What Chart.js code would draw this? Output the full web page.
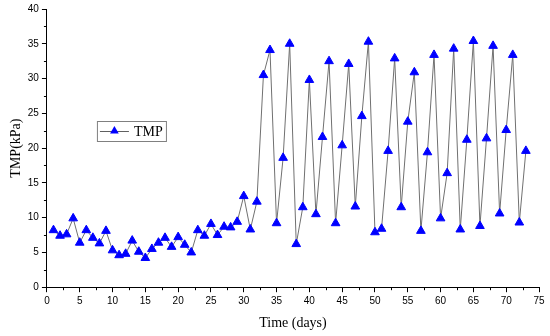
<!DOCTYPE html>
<html>
<head>
<meta charset="utf-8">
<script src="https://cdn.jsdelivr.net/npm/chart.js@4.4.0/dist/chart.umd.min.js"></script>
<style>
html, body { margin: 0; padding: 0; background: #fff; }
</style>
</head>
<body>
<canvas id="tmpChart" width="550" height="336"></canvas>
<script>
// data
var days = [1, 2, 3, 4, 5, 6, 7, 8, 9, 10, 11, 12, 13, 14, 15, 16, 17, 18, 19, 20,
	21, 22, 23, 24, 25, 26, 27, 28, 29, 30, 31, 32, 33, 34, 35, 36, 37, 38, 39, 40,
	41, 42, 43, 44, 45, 46, 47, 48, 49, 50, 51, 52, 53, 54, 55, 56, 57, 58, 59, 60,
	61, 62, 63, 64, 65, 66, 67, 68, 69, 70, 71, 72, 73];
var tmp = [8.2, 7.4, 7.6, 9.9, 6.4, 8.2, 7.1, 6.3, 8.1, 5.3, 4.6, 4.8, 6.7, 5.1, 4.2, 5.5, 6.4, 7.1, 5.8, 7.2,
	6.1, 5.0, 8.2, 7.4, 9.1, 7.5, 8.7, 8.6, 9.4, 13.1, 8.3, 12.3, 30.5, 34.1, 9.2, 18.6, 35.0, 6.2, 11.5, 29.8,
	10.5, 21.6, 32.5, 9.2, 20.4, 32.1, 11.6, 24.6, 35.3, 7.9, 8.4, 19.6, 32.9, 11.5, 23.8, 30.9, 8.1, 19.4, 33.4, 9.9,
	16.4, 34.3, 8.3, 21.2, 35.4, 8.8, 21.4, 34.7, 10.6, 22.6, 33.4, 9.3, 19.6];
var xTicks = [0, 5, 10, 15, 20, 25, 30, 35, 40, 45, 50, 55, 60, 65, 70, 75];
var yTicks = [0, 5, 10, 15, 20, 25, 30, 35, 40];
var seriesName = "TMP";
var xTitle = "Time (days)";
var yTitle = "TMP(kPa)";

var points = [];
for (var i = 0; i < days.length; i++) {
	points.push({ x: days[i], y: tmp[i] });
}

function triangle(ctx, x, y, r) {
	ctx.beginPath();
	ctx.moveTo(x, y - r);
	ctx.lineTo(x + r * 0.866, y + r * 0.5);
	ctx.lineTo(x - r * 0.866, y + r * 0.5);
	ctx.closePath();
	ctx.fill();
}

// half-step ticks, shorter than the labelled ones
var minorTicks = {
	id: "minorTicks",
	afterDraw: function (chart) {
		var ctx = chart.ctx;
		var xs = chart.scales.x, ys = chart.scales.y;
		ctx.save();
		ctx.strokeStyle = "#000";
		ctx.lineWidth = 1;
		ctx.beginPath();
		for (var i = 0; i < xTicks.length - 1; i++) {
			var px = Math.round(xs.getPixelForValue((xTicks[i] + xTicks[i + 1]) / 2)) + 0.5;
			ctx.moveTo(px, xs.top);
			ctx.lineTo(px, xs.top + 3);
		}
		for (var j = 0; j < yTicks.length - 1; j++) {
			var py = Math.round(ys.getPixelForValue((yTicks[j] + yTicks[j + 1]) / 2)) + 0.5;
			ctx.moveTo(ys.right, py);
			ctx.lineTo(ys.right - 3, py);
		}
		ctx.stroke();
		ctx.restore();
	}
};

// boxed legend sitting inside the plot, like the original
var boxLegend = {
	id: "boxLegend",
	afterDraw: function (chart) {
		var ctx = chart.ctx;
		var area = chart.chartArea;
		var bx = area.left + 50, by = area.top + 112;
		var bw = 69, bh = 20;
		ctx.save();
		ctx.strokeStyle = "#808080";
		ctx.lineWidth = 1;
		ctx.strokeRect(bx + 0.5, by + 0.5, bw, bh);
		ctx.strokeStyle = "#606060";
		ctx.beginPath();
		ctx.moveTo(bx + 3, by + 10.5);
		ctx.lineTo(bx + 32, by + 10.5);
		ctx.stroke();
		ctx.fillStyle = "#0000ff";
		triangle(ctx, bx + 17.5, by + 10, 5);
		ctx.fillStyle = "#000";
		ctx.font = "14px 'Liberation Serif'";
		ctx.textBaseline = "middle";
		ctx.fillText(seriesName, bx + 37, by + 11);
		ctx.restore();
	}
};

var ctx1 = document.getElementById("tmpChart");

var chart1 = new Chart(ctx1, {
	type: "line",
	data: {
		datasets: [
			{
				label: seriesName,
				data: points,
				borderColor: "#707070",
				borderWidth: 1,
				pointStyle: "triangle",
				pointRadius: 5,
				pointBackgroundColor: "#0000ff",
				pointBorderColor: "#0000ff",
				pointBorderWidth: 1,
				tension: 0,
				fill: false
			}
		]
	},
	options: {
		responsive: false,
		animation: false,
		layout: {
			padding: { left: 8, right: 11, top: 9, bottom: 4 }
		},
		plugins: {
			legend: { display: false },
			tooltip: { enabled: false }
		},
		scales: {
			x: {
				type: "linear",
				min: 0,
				max: 75,
				afterBuildTicks: function (scale) {
					scale.ticks = xTicks.map(function (v) { return { value: v }; });
				},
				ticks: {
					color: "#000",
					font: { family: "'Liberation Sans'", size: 10 },
					padding: 3,
					maxRotation: 0
				},
				grid: {
					drawOnChartArea: false,
					drawTicks: true,
					tickLength: 5,
					tickColor: "#000"
				},
				border: { color: "#000", width: 1 },
				title: {
					display: true,
					text: xTitle,
					color: "#000",
					font: { family: "'Liberation Serif'", size: 14 },
					padding: { top: 5, bottom: 0 }
				}
			},
			y: {
				min: 0,
				max: 40,
				afterBuildTicks: function (scale) {
					scale.ticks = yTicks.map(function (v) { return { value: v }; });
				},
				ticks: {
					color: "#000",
					font: { family: "'Liberation Sans'", size: 10 },
					padding: 3
				},
				grid: {
					drawOnChartArea: false,
					drawTicks: true,
					tickLength: 5,
					tickColor: "#000"
				},
				border: { color: "#000", width: 1 },
				title: {
					display: true,
					text: yTitle,
					color: "#000",
					font: { family: "'Liberation Serif'", size: 14 },
					padding: { top: 0, bottom: 0 }
				}
			}
		}
	},
	plugins: [minorTicks, boxLegend]
});
</script>
</body>
</html>
